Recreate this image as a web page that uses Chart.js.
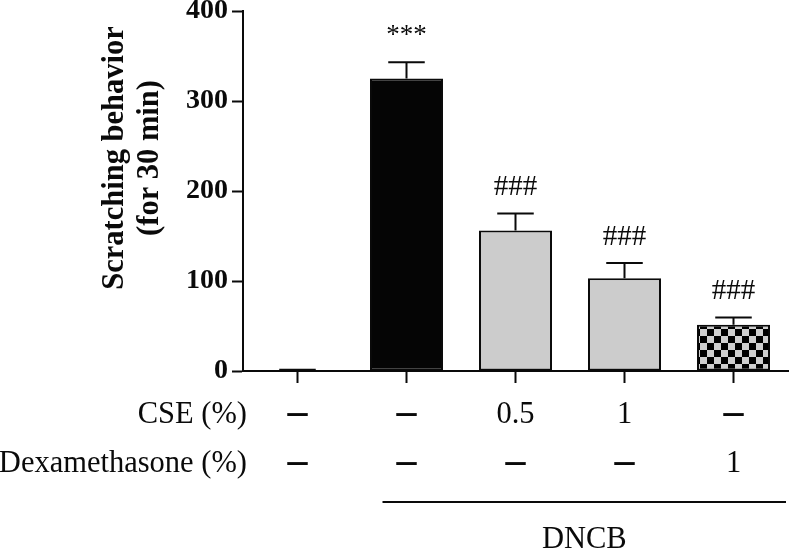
<!DOCTYPE html>
<html>
<head>
<meta charset="utf-8">
<script src="https://cdn.jsdelivr.net/npm/chart.js@4.4.1/dist/chart.umd.min.js"></script>
<style>
  html, body { margin: 0; padding: 0; background: #fff; }
  #wrap { width: 792px; height: 551px; position: relative; }
</style>
</head>
<body>
<div id="wrap"><canvas id="chart"></canvas></div>
<script>
// Scratching counts per group (mean + SEM, upper error only).
const groups = ['Control', 'DNCB', 'DNCB + CSE 0.5%', 'DNCB + CSE 1%', 'DNCB + Dex 1%'];
const scratchMeans = [1, 325, 156, 103, 51.5];
const scratchSem = [0.5, 18, 19, 17, 8];
const sigMarks = ['', '***', '###', '###', '###'];
const yTicks = [0, 100, 200, 300, 400];
// treatment table under the axis
const cseRow = ['—', '—', '0.5', '1', '—'];
const dexRow = ['—', '—', '—', '—', '1'];
const rowLabels = ['CSE (%)', 'Dexamethasone (%)'];
const groupLabel = 'DNCB';

const SERIF = '"Liberation Serif", "Times New Roman", serif';
const INK = '#0a0a0a';

// black / light-grey checkerboard for the dexamethasone bar
function checkerPattern() {
  const c = document.createElement('canvas');
  c.width = 14; c.height = 14;
  const g = c.getContext('2d');
  g.fillStyle = '#cfcfcf';
  g.fillRect(0, 0, 14, 14);
  g.fillStyle = '#000';
  g.fillRect(0, 0, 7, 7);
  g.fillRect(7, 7, 7, 7);
  return g.createPattern(c, 'repeat');
}

const barFills = ['#ffffff', '#050505', '#cccccc', '#cccccc', checkerPattern()];

// upper SEM whiskers plus the significance marks above them
const errorBars = {
  id: 'errorBars',
  afterDatasetsDraw(chart) {
    const { ctx } = chart;
    const y = chart.scales.y;
    const meta = chart.getDatasetMeta(0);
    ctx.save();
    ctx.strokeStyle = INK;
    ctx.lineWidth = 2;
    meta.data.forEach((bar, i) => {
      const top = y.getPixelForValue(scratchMeans[i]);
      const cap = y.getPixelForValue(scratchMeans[i] + scratchSem[i]);
      const half = bar.width / 4;
      ctx.beginPath();
      ctx.moveTo(bar.x, top);
      ctx.lineTo(bar.x, cap);
      ctx.moveTo(bar.x - half, cap);
      ctx.lineTo(bar.x + half, cap);
      ctx.stroke();
      if (sigMarks[i]) {
        ctx.fillStyle = INK;
        ctx.font = (sigMarks[i] === '***' ? '27px ' : '29px ') + SERIF;
        ctx.textAlign = 'center';
        ctx.textBaseline = 'middle';
        ctx.fillText(sigMarks[i], bar.x, cap - 26);
      }
    });
    ctx.restore();
  },
};

// y title (sits a bit above the axis middle) and the treatment table
const annotations = {
  id: 'annotations',
  afterDraw(chart) {
    const { ctx, chartArea } = chart;
    const x = chart.scales.x;
    ctx.save();
    ctx.fillStyle = INK;

    ctx.save();
    ctx.translate(115, 158);
    ctx.rotate(-Math.PI / 2);
    ctx.font = 'bold 30.5px ' + SERIF;
    ctx.textAlign = 'center';
    ctx.textBaseline = 'middle';
    ctx.fillText('Scratching behavior', 0, 0);
    ctx.fillText('(for 30 min)', 0, 35);
    ctx.restore();

    const rowY = [415, 464];
    ctx.textBaseline = 'middle';
    ctx.font = '30.5px ' + SERIF;
    ctx.textAlign = 'right';
    rowLabels.forEach((lab, r) => ctx.fillText(lab, 247, rowY[r]));

    ctx.textAlign = 'center';
    [cseRow, dexRow].forEach((row, r) => {
      row.forEach((txt, i) => {
        const cx = x.getPixelForValue(i);
        if (txt === '—') {
          ctx.font = 'bold 23px "DejaVu Sans"';
          ctx.fillText(txt, cx, rowY[r]);
        } else {
          ctx.font = '30.5px ' + SERIF;
          ctx.fillText(txt, cx, rowY[r]);
        }
      });
    });

    const x0 = x.getPixelForValue(1) - 24;
    const x1 = chartArea.right - 2;
    ctx.strokeStyle = INK;
    ctx.lineWidth = 2;
    ctx.beginPath();
    ctx.moveTo(x0, 502);
    ctx.lineTo(x1, 502);
    ctx.stroke();
    ctx.font = '30.5px ' + SERIF;
    ctx.fillText(groupLabel, (x0 + x1) / 2, 540);
    ctx.restore();
  },
};

new Chart(document.getElementById('chart').getContext('2d'), {
  type: 'bar',
  data: {
    labels: groups,
    datasets: [{
      data: scratchMeans,
      backgroundColor: barFills,
      borderColor: INK,
      borderWidth: 2,
      borderSkipped: false,
      categoryPercentage: 1,
      barPercentage: 0.67,
    }],
  },
  options: {
    responsive: true,
    maintainAspectRatio: false,
    animation: false,
    devicePixelRatio: 1,
    layout: { padding: { top: 11, right: 4, left: 0, bottom: 0 } },
    plugins: { legend: { display: false }, tooltip: { enabled: false } },
    scales: {
      x: {
        afterFit: (s) => { s.height = 180; },
        border: { color: INK, width: 2 },
        grid: { offset: false, drawOnChartArea: false, tickLength: 12, tickColor: INK, tickWidth: 2 },
        ticks: { display: false },
      },
      y: {
        min: 0,
        max: 400,
        afterFit: (s) => { s.width = 243; },
        afterBuildTicks: (s) => { s.ticks = yTicks.map((v) => ({ value: v })); },
        border: { color: INK, width: 2 },
        grid: { drawOnChartArea: false, tickLength: 11, tickColor: INK, tickWidth: 2 },
        ticks: {
          color: INK,
          padding: 4,
          font: { family: SERIF, size: 28, weight: 'bold', lineHeight: 0.5 },
        },
      },
    },
  },
  plugins: [errorBars, annotations],
});
</script>
</body>
</html>
